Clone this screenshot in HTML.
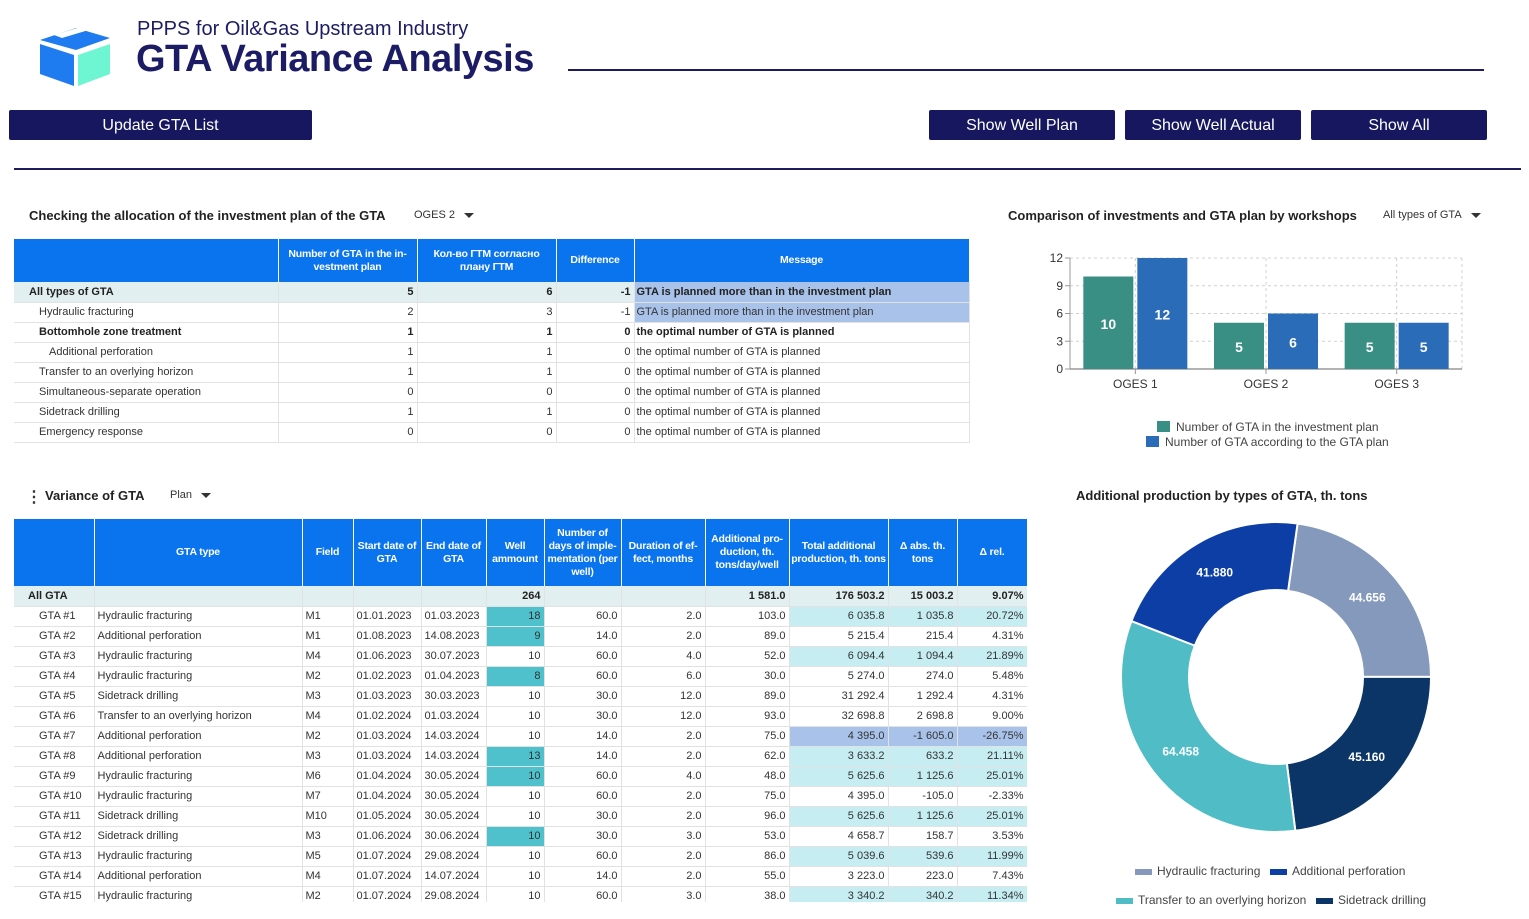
<!DOCTYPE html>
<html><head><meta charset="utf-8">
<style>
*{box-sizing:border-box;margin:0;padding:0}
body{width:1529px;height:919px;overflow:hidden;background:#fff;font-family:"Liberation Sans","Noto Sans CJK SC",sans-serif;color:#222;position:relative}
.abs{position:absolute}
.btn{position:absolute;background:#17175f;color:#fff;font-size:16px;text-align:center;line-height:32px;height:30px;border-radius:2px}
.sec{position:absolute;font-size:13px;font-weight:bold;color:#222;white-space:nowrap}
.dd{position:absolute;font-size:11px;color:#333;white-space:nowrap}
.dd:after{content:"";display:inline-block;margin-left:9px;border-left:5px solid transparent;border-right:5px solid transparent;border-top:5px solid #333;vertical-align:middle}
table{border-collapse:collapse;position:absolute;table-layout:fixed;font-size:11px}
th{background:#0a74ef;color:#fff;font-weight:bold;border-right:1px solid #fff;text-align:center;line-height:13px;padding:0;font-size:10.5px;letter-spacing:-0.2px}
td{height:20px;border-bottom:1px solid #e2e2e2;border-right:1px solid #e2e2e2;padding:0 3px;white-space:nowrap;overflow:hidden;color:#333}
td.r{text-align:right}
tr.tot td{background:#e1eff1;font-weight:bold;color:#222}
</style></head><body>
<svg class="abs" style="left:38px;top:18px" width="76" height="70">
<polygon points="2,22 38,10 72,20 38,32" fill="#1e7cf0"/>
<polygon points="16,17 46,8 54,11 24,20" fill="#fff"/>
<polygon points="2,26 36,37 36,68 2,56" fill="#1e7cf0"/>
<polygon points="40,37 72,26 72,56 40,68" fill="#6ef5d2"/>
</svg>
<div class="abs" style="left:137px;top:18px;font-size:20px;color:#1c1c66">PPPS for Oil&amp;Gas Upstream Industry</div>
<div class="abs" style="left:136px;top:38px;font-size:38px;font-weight:bold;color:#1c1c66;letter-spacing:-0.5px">GTA Variance Analysis</div>
<div class="abs" style="left:568px;top:69px;width:916px;height:2px;background:#1c1c5e"></div>
<div class="btn" style="left:9px;top:110px;width:303px">Update GTA List</div>
<div class="btn" style="left:929px;top:110px;width:186px">Show Well Plan</div>
<div class="btn" style="left:1125px;top:110px;width:176px">Show Well Actual</div>
<div class="btn" style="left:1311px;top:110px;width:176px">Show All</div>
<div class="abs" style="left:14px;top:168px;width:1507px;height:2px;background:#1c1c5e"></div>

<div class="sec" style="left:29px;top:208px">Checking the allocation of the investment plan of the GTA</div>
<div class="dd" style="left:414px;top:209px">OGES 2</div>
<table id="t1" style="left:14px;top:239px;width:955px">
<colgroup><col style="width:264px"><col style="width:139px"><col style="width:139px"><col style="width:78px"><col style="width:335px"></colgroup>
<tr style="height:43px"><th></th><th>Number of GTA in the in-<br>vestment plan</th><th>Кол-во ГТМ согласно<br>плану ГТМ</th><th>Difference</th><th>Message</th></tr>
</table>

<div class="sec" style="left:1008px;top:208px">Comparison of investments and GTA plan by workshops</div>
<div class="dd" style="left:1383px;top:209px">All types of GTA</div>
<svg id="bar" class="abs" style="left:1000px;top:240px" width="520" height="220"></svg>

<div class="abs" style="left:26px;top:487px;font-size:16px;font-weight:bold;color:#333">⋮</div>
<div class="sec" style="left:45px;top:488px">Variance of GTA</div>
<div class="dd" style="left:170px;top:489px">Plan</div>
<div class="abs" style="left:14px;top:519px;width:1013px;height:383px;overflow:hidden">
<table id="t2" style="left:0;top:0;width:1013px">
<colgroup><col style="width:80px"><col style="width:208px"><col style="width:51px"><col style="width:68px"><col style="width:65px"><col style="width:58px"><col style="width:77px"><col style="width:84px"><col style="width:84px"><col style="width:99px"><col style="width:69px"><col style="width:70px"></colgroup>
<tr style="height:67px"><th></th><th>GTA type</th><th>Field</th><th>Start date of<br>GTA</th><th>End date of<br>GTA</th><th>Well<br>ammount</th><th>Number of<br>days of imple-<br>mentation (per<br>well)</th><th>Duration of ef-<br>fect, months</th><th>Additional pro-<br>duction, th.<br>tons/day/well</th><th>Total additional<br>production, th. tons</th><th>Δ abs. th.<br>tons</th><th>Δ rel.</th></tr>
</table></div>

<div class="sec" style="left:1076px;top:488px">Additional production by types of GTA, th. tons</div>
<svg id="donut" class="abs" style="left:1080px;top:510px" width="420" height="409"></svg>

<script>
// ---- table 1 data
const t1Labels=["All types of GTA","Hydraulic fracturing","Bottomhole zone treatment","Additional perforation","Transfer to an overlying horizon","Simultaneous-separate operation","Sidetrack drilling","Emergency response"];
const t1Indent=[15,25,25,35,25,25,25,25];
const t1Invest=[5,2,1,1,1,0,1,0];
const t1Plan=[6,3,1,1,1,0,1,0];
const t1Diff=[-1,-1,0,0,0,0,0,0];
const t1Msg=["GTA is planned more than in the investment plan","GTA is planned more than in the investment plan","the optimal number of GTA is planned","the optimal number of GTA is planned","the optimal number of GTA is planned","the optimal number of GTA is planned","the optimal number of GTA is planned","the optimal number of GTA is planned"];
const t1=document.getElementById('t1');
t1Labels.forEach((l,i)=>{
  const tr=document.createElement('tr');
  
  
  if(i===0)tr.className='tot';
  const bold=(i===2)?'font-weight:bold;color:#222;':'';
  const msgBg=t1Diff[i]<0?'background:#a9c2ea;':'';
  tr.innerHTML=`<td style="padding-left:${t1Indent[i]}px;${bold}">${l}</td><td class="r" style="${bold}">${t1Invest[i]}</td><td class="r" style="${bold}">${t1Plan[i]}</td><td class="r" style="${bold}">${t1Diff[i]}</td><td style="padding-left:2px;${bold}${msgBg}">${t1Msg[i]}</td>`;
  t1.appendChild(tr);
});

// ---- table 2 data
const gtaIds=["GTA #1","GTA #2","GTA #3","GTA #4","GTA #5","GTA #6","GTA #7","GTA #8","GTA #9","GTA #10","GTA #11","GTA #12","GTA #13","GTA #14","GTA #15"];
const gtaTypes=["Hydraulic fracturing","Additional perforation","Hydraulic fracturing","Hydraulic fracturing","Sidetrack drilling","Transfer to an overlying horizon","Additional perforation","Additional perforation","Hydraulic fracturing","Hydraulic fracturing","Sidetrack drilling","Sidetrack drilling","Hydraulic fracturing","Additional perforation","Hydraulic fracturing"];
const gtaFields=["M1","M1","M4","M2","M3","M4","M2","M3","M6","M7","M10","M3","M5","M4","M2"];
const gtaStart=["01.01.2023","01.08.2023","01.06.2023","01.02.2023","01.03.2023","01.02.2024","01.03.2024","01.03.2024","01.04.2024","01.04.2024","01.05.2024","01.06.2024","01.07.2024","01.07.2024","01.07.2024"];
const gtaEnd=["01.03.2023","14.08.2023","30.07.2023","01.04.2023","30.03.2023","01.03.2024","14.03.2024","14.03.2024","30.05.2024","30.05.2024","30.05.2024","30.06.2024","29.08.2024","14.07.2024","29.08.2024"];
const gtaWells=[18,9,10,8,10,10,10,13,10,10,10,10,10,10,10];
const gtaWellHi=[1,1,0,1,0,0,0,1,1,0,0,1,0,0,0];
const gtaDays=["60.0","14.0","60.0","60.0","30.0","30.0","14.0","14.0","60.0","60.0","30.0","30.0","60.0","14.0","60.0"];
const gtaDur=["2.0","2.0","4.0","6.0","12.0","12.0","2.0","2.0","4.0","2.0","2.0","3.0","2.0","2.0","3.0"];
const gtaAdd=["103.0","89.0","52.0","30.0","89.0","93.0","75.0","62.0","48.0","75.0","96.0","53.0","86.0","55.0","38.0"];
const gtaTotal=["6 035.8","5 215.4","6 094.4","5 274.0","31 292.4","32 698.8","4 395.0","3 633.2","5 625.6","4 395.0","5 625.6","4 658.7","5 039.6","3 223.0","3 340.2"];
const gtaAbs=["1 035.8","215.4","1 094.4","274.0","1 292.4","2 698.8","-1 605.0","633.2","1 125.6","-105.0","1 125.6","158.7","539.6","223.0","340.2"];
const gtaRel=[20.72,4.31,21.89,5.48,4.31,9.00,-26.75,21.11,25.01,-2.33,25.01,3.53,11.99,7.43,11.34];
const t2=document.getElementById('t2');
const tot=document.createElement('tr');


tot.className='tot';
tot.innerHTML='<td style="padding-left:14px">All GTA</td><td></td><td></td><td></td><td></td><td class="r">264</td><td></td><td></td><td class="r">1 581.0</td><td class="r">176 503.2</td><td class="r">15 003.2</td><td class="r">9.07%</td>';
t2.appendChild(tot);
gtaIds.forEach((id,i)=>{
  const tr=document.createElement('tr');
  
  
  const r=gtaRel[i];
  const hi=r>10?'background:#c6edf1;':(r<-10?'background:#a9c2ea;':'');
  const wh=gtaWellHi[i]?'background:#4fc1cc;':'';
  tr.innerHTML=`<td style="padding-left:25px">${id}</td><td>${gtaTypes[i]}</td><td>${gtaFields[i]}</td><td>${gtaStart[i]}</td><td>${gtaEnd[i]}</td><td class="r" style="${wh}">${gtaWells[i]}</td><td class="r">${gtaDays[i]}</td><td class="r">${gtaDur[i]}</td><td class="r">${gtaAdd[i]}</td><td class="r" style="${hi}">${gtaTotal[i]}</td><td class="r" style="${hi}">${gtaAbs[i]}</td><td class="r" style="${hi}">${r.toFixed(2)}%</td>`;
  t2.appendChild(tr);
});

// ---- bar chart
const NS='http://www.w3.org/2000/svg';
function mk(svg,tag,attrs,txt){const e=document.createElementNS(NS,tag);for(const k in attrs)e.setAttribute(k,attrs[k]);if(txt!==undefined)e.textContent=txt;svg.appendChild(e);return e;}
const barCats=["OGES 1","OGES 2","OGES 3"];
const barInvest=[10,5,5];
const barPlan=[12,6,5];
const barTicks=[0,3,6,9,12];
const bar=document.getElementById('bar');
const px0=70,px1=462,py0=129,py1=18;
const yS=v=>py0-(v/12)*(py0-py1);
const bw=(px1-px0)/barCats.length;
const xC=i=>px0+bw*(i+0.5);
barTicks.forEach(t=>{
  mk(bar,'line',{x1:px0,x2:px1,y1:yS(t),y2:yS(t),stroke:'#d0d0d0','stroke-dasharray':'3,3'});
  mk(bar,'line',{x1:px0-5,x2:px0,y1:yS(t),y2:yS(t),stroke:'#999'});
  const tl=mk(bar,'text',{x:px0-7,y:yS(t)+4,'text-anchor':'end','font-size':12,fill:'#333'},t);
  
  
});
barCats.forEach((c,i)=>{mk(bar,'line',{x1:xC(i),x2:xC(i),y1:py1,y2:py0+5,stroke:'#d0d0d0','stroke-dasharray':'3,3'});});
mk(bar,'line',{x1:px1,x2:px1,y1:py1,y2:py0,stroke:'#d0d0d0','stroke-dasharray':'3,3'});
mk(bar,'line',{x1:px0,x2:px0,y1:py1,y2:py0,stroke:'#999'});
mk(bar,'line',{x1:px0,x2:px1,y1:py0,y2:py0,stroke:'#999','stroke-width':1.5});
barCats.forEach((c,i)=>{
  const cx=xC(i);
  mk(bar,'line',{x1:cx,x2:cx,y1:py0,y2:py0+5,stroke:'#999'});
  const g=mk(bar,'rect',{x:cx-52,y:yS(barInvest[i]),width:50,height:py0-yS(barInvest[i]),fill:'#3a8f84'});
  
  
  const b=mk(bar,'rect',{x:cx+2,y:yS(barPlan[i]),width:50,height:py0-yS(barPlan[i]),fill:'#2b6cb8'});
  
  
  mk(bar,'text',{x:cx-27,y:(yS(barInvest[i])+py0)/2+6,'text-anchor':'middle','font-size':14,'font-weight':'bold',fill:'#fff'},barInvest[i]);
  mk(bar,'text',{x:cx+27,y:(yS(barPlan[i])+py0)/2+6,'text-anchor':'middle','font-size':14,'font-weight':'bold',fill:'#fff'},barPlan[i]);
  const xl=mk(bar,'text',{x:cx,y:py0+19,'text-anchor':'middle','font-size':12,fill:'#333'},c);
  
  
});
const lg1=mk(bar,'g',{});


mk(lg1,'rect',{x:157,y:181,width:13,height:11,fill:'#3a8f84'});
mk(lg1,'text',{x:176,y:191,'font-size':12,fill:'#444'},'Number of GTA in the investment plan');
const lg2=mk(bar,'g',{});


mk(lg2,'rect',{x:146,y:196,width:13,height:11,fill:'#2b6cb8'});
mk(lg2,'text',{x:165,y:206,'font-size':12,fill:'#444'},'Number of GTA according to the GTA plan');

// ---- donut
const donutLabels=["Hydraulic fracturing","Sidetrack drilling","Transfer to an overlying horizon","Additional perforation"];
const donutValues=[44.656,45.160,64.458,41.880];
const donutColors=['#8499bb','#0b3566','#4fbcc6','#0d3ea6'];
const dn=document.getElementById('donut');
const cx=196,cy=167,R=155,r=87;
const sum=donutValues.reduce((a,b)=>a+b,0);
let ang=8*Math.PI/180;
const pt=(a,rad)=>[cx+rad*Math.sin(a),cy-rad*Math.cos(a)];
donutValues.forEach((v,i)=>{
  const a0=ang,a1=ang+v/sum*2*Math.PI;ang=a1;
  const lg=(a1-a0)>Math.PI?1:0;
  const [x0,y0]=pt(a0,R),[x1,y1]=pt(a1,R),[x2,y2]=pt(a1,r),[x3,y3]=pt(a0,r);
  const p=mk(dn,'path',{d:`M${x0},${y0}A${R},${R} 0 ${lg} 1 ${x1},${y1}L${x2},${y2}A${r},${r} 0 ${lg} 0 ${x3},${y3}Z`,fill:donutColors[i],stroke:'#fff','stroke-width':2});
  
  
  const [lx,ly]=pt((a0+a1)/2,(R+r)/2);
  mk(dn,'text',{x:lx,y:ly+4,'text-anchor':'middle','font-size':12,'font-weight':'bold',fill:'#fff'},v.toFixed(3));
});
const legItems=[[0,55,364],[3,190,364],[2,36,393],[1,236,393]];
legItems.forEach(([k,x,y])=>{
  const g=mk(dn,'g',{});
  
  
  mk(g,'rect',{x:x,y:y-5,width:17,height:6,fill:donutColors[k]});
  mk(g,'text',{x:x+22,y:y+1,'font-size':12,fill:'#444'},donutLabels[k]);
});
</script>
</body></html>
